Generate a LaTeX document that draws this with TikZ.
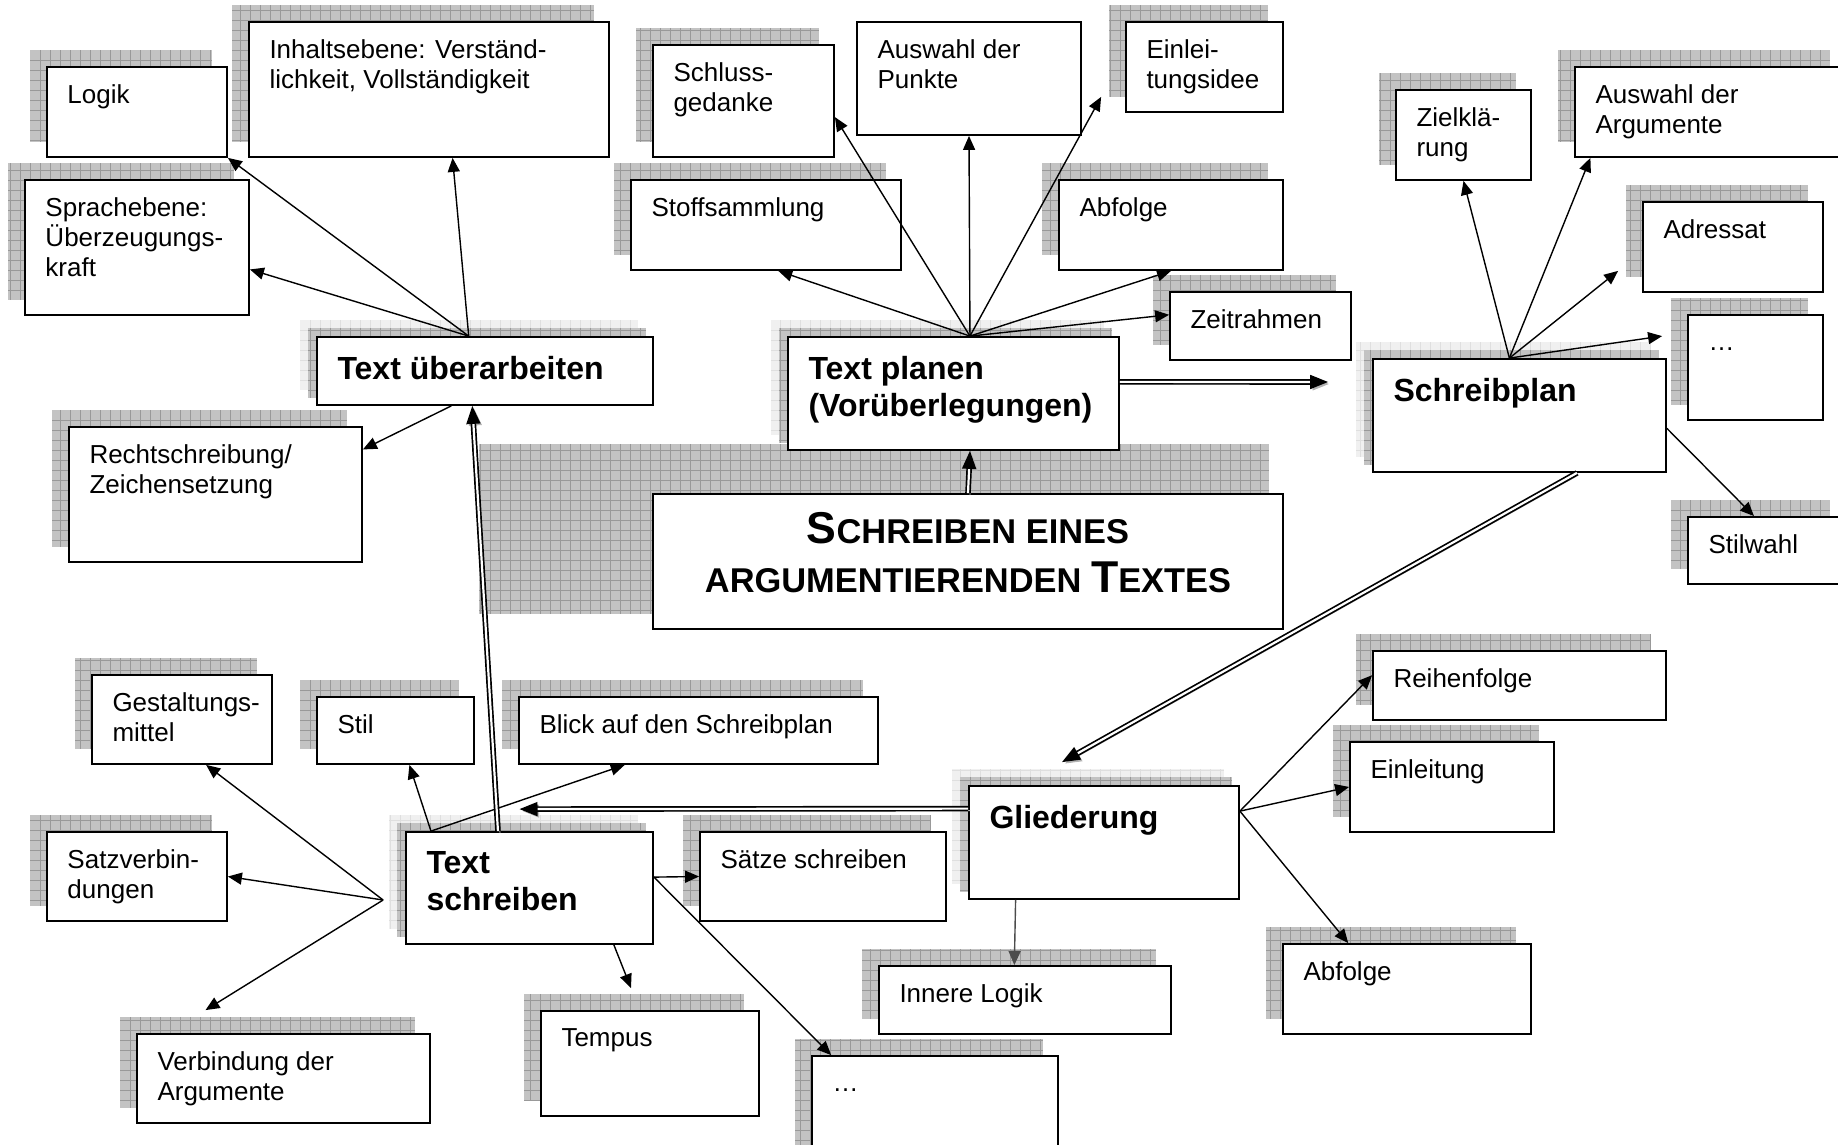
\documentclass[tikz,border=0pt]{standalone}
\usepackage{fontspec}
\setmainfont{Liberation Sans}
\usetikzlibrary{arrows.meta, positioning, calc, fit, backgrounds}

\newcommand{\normtext}{\fontsize{13}{15}\selectfont}
\newcommand{\headtext}{\fontsize{16}{18.5}\selectfont\bfseries}
\newcommand{\initcap}[1]{{\fontsize{22.3}{24.5}\selectfont #1}}

\tikzset{
  box/.style={draw, line width=0.9pt, fill=white, inner sep=0pt},
  txt/.style={anchor=north west, align=left, inner sep=0pt, xshift=10.5pt, yshift=-9pt, font=\normtext},
  headtxt/.style={anchor=north west, align=left, inner sep=0pt, xshift=10.5pt, yshift=-10pt, font=\headtext},
  titletxt/.style={anchor=north, align=center, inner sep=0pt, yshift=-9.5pt, font=\bfseries\fontsize{17.2}{24.5}\selectfont},
  arr/.style={-{Triangle[length=7pt, width=6pt]}, line width=0.7pt},
  dbl/.style={double, double distance=1.1pt, line width=0.85pt, -{Triangle[length=9pt, width=7pt]},
    preaction={draw=gray!60, transform canvas={shift={(1pt,-1pt)}}}},
  shadowbox/.style={fill=gray!47},
  shadowgrid/.style={draw=gray!80, line width=0.3pt, step=5pt},
  halobox/.style={fill=gray!12},
  halogrid/.style={draw=gray!25, line width=0.3pt, step=5pt},
}

\begin{document}
\begin{tikzpicture}[x=0.5pt, y=-0.5pt]
    \useasboundingbox (0,0) rectangle (1838,1145);

    % left group
    \node[box, fit={(47,67) (227,157)}, label={[txt]north west:Logik}] (logik) {};
    \node[box, fit={(249,22) (609,157)}, label={[txt]north west:{Inhaltsebene: Verständ-\\lichkeit, Vollständigkeit}}] (inhalt) {};
    \node[box, fit={(25,180) (249,315)}, label={[txt]north west:{Sprachebene:\\Überzeugungs-\\kraft}}] (sprache) {};
    \node[box, fit={(317,337) (653,405)}, label={[headtxt]north west:Text überarbeiten}] (ueberarb) {};
    \node[box, fit={(69,427) (362,562)}, label={[txt]north west:{Rechtschreibung/\\Zeichensetzung}}] (recht) {};

    % planning group
    \node[box, fit={(653,45) (834,157)}, label={[txt]north west:{Schluss-\\gedanke}}] (schluss) {};
    \node[box, fit={(631,180) (901,270)}, label={[txt]north west:Stoffsammlung}] (stoff) {};
    \node[box, fit={(857,22) (1081,135)}, label={[txt]north west:{Auswahl der\\Punkte}}] (punkte) {};
    \node[box, fit={(1126,22) (1283,112)}, label={[txt]north west:{Einlei-\\tungsidee}}] (idee) {};
    \node[box, fit={(1059,180) (1283,270)}, label={[txt]north west:Abfolge}] (abfolgeA) {};
    \node[box, fit={(1170,292) (1351,360)}, label={[txt]north west:Zeitrahmen}] (zeit) {};
    \node[box, fit={(788,337) (1119,450)}, label={[headtxt]north west:{Text planen\\(Vorüberlegungen)}}] (planen) {};
    \node[box, fit={(653,494) (1283,629)},
        label={[titletxt]north:{\initcap{S}CHREIBEN EINES\\ARGUMENTIERENDEN \initcap{T}EXTES}}] (title) {};

    % writing plan
    \node[box, fit={(1396,90) (1531,180)}, label={[txt]north west:{Zielklä-\\rung}}] (ziel) {};
    \node[box, fit={(1575,67) (1845,157)}, label={[txt]north west:{Auswahl der\\Argumente}}] (argwahl) {};
    \node[box, fit={(1643,202) (1823,292)}, label={[txt]north west:Adressat}] (adressat) {};
    \node[box, fit={(1688,315) (1823,420)}, label={[txt]north west:\vphantom{L}…}] (dotsR) {};
    \node[box, fit={(1373,359) (1666,472)}, label={[headtxt]north west:Schreibplan}] (splan) {};
    \node[box, fit={(1688,517) (1845,584)}, label={[txt]north west:Stilwahl}] (stilwahl) {};

    % writing
    \node[box, fit={(92,675) (272,764)}, label={[txt]north west:{Gestaltungs-\\mittel}}] (gestalt) {};
    \node[box, fit={(317,697) (474,764)}, label={[txt]north west:Stil}] (stil) {};
    \node[box, fit={(519,697) (878,764)}, label={[txt]north west:Blick auf den Schreibplan}] (blick) {};
    \node[box, fit={(47,832) (227,921)}, label={[txt]north west:{Satzverbin-\\dungen}}] (satzverb) {};
    \node[box, fit={(406,832) (653,944)}, label={[headtxt]north west:{Text\\schreiben}}] (schreiben) {};
    \node[box, fit={(700,832) (946,921)}, label={[txt]north west:Sätze schreiben}] (saetze) {};
    \node[box, fit={(137,1034) (430,1123)}, label={[txt]north west:{Verbindung der\\Argumente}}] (verbarg) {};
    \node[box, fit={(541,1011) (759,1116)}, label={[txt]north west:Tempus}] (tempus) {};
    \node[box, fit={(812,1056) (1058,1160)}, label={[txt]north west:\vphantom{L}…}] (dotsB) {};

    % structure
    \node[box, fit={(879,966) (1171,1034)}, label={[txt]north west:Innere Logik}] (innere) {};
    \node[box, fit={(969,786) (1239,899)}, label={[headtxt]north west:Gliederung}] (gliederung) {};
    \node[box, fit={(1373,651) (1666,720)}, label={[txt]north west:Reihenfolge}] (reihen) {};
    \node[box, fit={(1350,742) (1554,832)}, label={[txt]north west:Einleitung}] (einleitung) {};
    \node[box, fit={(1283,944) (1531,1034)}, label={[txt]north west:Abfolge}] (abfolgeB) {};

    % shadows
    \begin{scope}[on background layer]
      \foreach \n in {ueberarb, planen, splan, schreiben, gliederung} {
        \fill[halobox] ([shift={(-16,-16)}]\n.north west) rectangle ([shift={(-16,-16)}]\n.south east);
        \draw[halogrid] ([shift={(-16,-16)}]\n.north west) grid ([shift={(-16,-16)}]\n.south east);
        \fill[shadowbox] ([shift={(-8,-8)}]\n.north west) rectangle ([shift={(-8,-8)}]\n.south east);
        \draw[shadowgrid] ([shift={(-8,-8)}]\n.north west) grid ([shift={(-8,-8)}]\n.south east);
      }
      \foreach \n in {logik, inhalt, sprache, recht, schluss, stoff, idee, abfolgeA, zeit, ziel, argwahl,
          adressat, dotsR, stilwahl, gestalt, stil, blick, satzverb, saetze, verbarg, tempus, dotsB,
          innere, reihen, einleitung, abfolgeB} {
        \fill[shadowbox] ([shift={(-16,-16)}]\n.north west) rectangle ([shift={(-16,-16)}]\n.south east);
        \draw[shadowgrid] ([shift={(-16,-16)}]\n.north west) grid ([shift={(-16,-16)}]\n.south east);
      }
      \fill[shadowbox] ([shift={(-173,-49)}]title.north west) rectangle ([shift={(-15,-16)}]title.south east);
      \draw[shadowgrid] ([shift={(-173,-49)}]title.north west) grid ([shift={(-15,-16)}]title.south east);
    \end{scope}

    % free ends
    \coordinate (idee tip) at ([shift={(-24,-16)}]idee.south west);
    \coordinate (adr tip) at ([shift={(-24,-22)}]adressat.south west);
    \coordinate (dotsR tip) at ([shift={(-25,22)}]dotsR.north west);
    \coordinate (splan tip) at ([shift={(-44,-33.5)}]splan.west);
    \coordinate (gl tip) at ([shift={(-42,-23)}]gliederung.north);
    \coordinate (ts tip) at ([shift={(-10,-22)}]schreiben.north);
    \coordinate (ts fan) at ([shift={(-22,12)}]schreiben.west);
    \coordinate (verbarg tip) at ([shift={(-78,-23)}]verbarg.north);
    \coordinate (tempus tip) at ([shift={(-19,-22)}]tempus.north);

    \draw[arr] (ueberarb.115) -- (logik.south east);
    \draw[arr] (ueberarb.115) -- (sprache.-11.4);
    \draw[arr] (ueberarb.115) -- (inhalt.-71.2);
    \draw[arr] (ueberarb.-134) -- (recht.17.6);

    \draw[arr] (planen.74.7) -- (stoff.-75.1);
    \draw[arr] (planen.74.7) -- (schluss.-10);
    \draw[arr] (planen.74.7) -- (punkte.south);
    \draw[arr] (planen.74.7) -- (idee tip);
    \draw[arr] (planen.74.7) -- (abfolgeA.south);
    \draw[arr] (planen.74.7) -- (zeit.173);

    \draw[arr] (splan.100.5) -- (ziel.south);
    \draw[arr] (splan.100.5) -- (argwahl.-159);
    \draw[arr] (splan.100.5) -- (adr tip);
    \draw[arr] (splan.100.5) -- (dotsR tip);
    \draw[arr] (splan.-5.3) -- (stilwahl.110.5);

    \draw[arr] (schreiben.150.6) -- (stil.-68);
    \draw[arr] (schreiben.150.6) -- (blick.-155.5);
    \draw[arr] (ts fan) -- (gestalt.-62.7);
    \draw[arr] (ts fan) -- (satzverb.east);
    \draw[arr] (ts fan) -- (verbarg tip);
    \draw[arr] (schreiben.5.1) -- (saetze.west);
    \draw[arr] (schreiben.5.1) -- (dotsB.153.2);
    \draw[arr] (schreiben.-34.8) -- (tempus tip);

    \draw[arr] (gliederung.13.9) -- (reihen.176.3);
    \draw[arr] (gliederung.13.9) -- (einleitung.west);
    \draw[arr] (gliederung.13.9) -- (abfolgeB.142.2);
    \draw[arr, draw=black!70] (gliederung.-147.9) -- (innere.107.9);

    % main flow
    \draw[dbl] (title.north) -- (planen.-74.7);
    \draw[dbl] (planen.4) -- (splan tip);
    \draw[dbl] (splan.-45.5) -- (gl tip);
    \draw[dbl] (gliederung.166.5) -- (ts tip);
    \draw[dbl] (schreiben.119.4) -- (ueberarb.-110.9);
\end{tikzpicture}
\end{document}
